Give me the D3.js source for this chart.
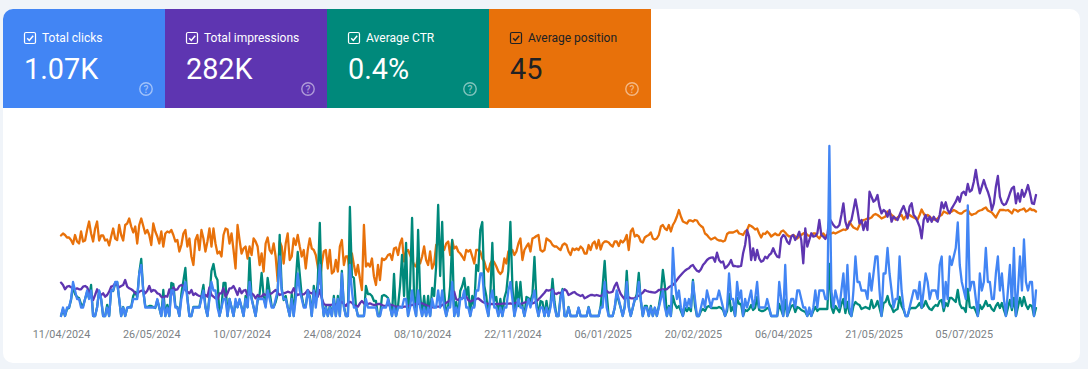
<!DOCTYPE html>
<html>
<style>
body { margin: 0; background: #f0f4f9; }
svg { display: block; }
text { font-family: Roboto, sans-serif; }
.axis text { font-size: 10.8px; fill: #7b7f85; }
.axis path, .axis line { display: none; }
.lines path { fill: none; stroke-width: 2.3; stroke-linejoin: round; stroke-linecap: round; }
</style>
<svg width="1088" height="369"></svg>
<script src="https://d3js.org/d3.v7.min.js"></script>
<script>

var metricNames = ["Total clicks", "Total impressions", "Average CTR", "Average position"];
var metricValues = ["1.07K", "282K", "0.4%", "45"];
var metricColors = ["#4285f4", "#5e35b1", "#00897b", "#e8710a"];
var metricInk = ["#ffffff", "#ffffff", "#ffffff", "#202124"];

var startDate = "11/04/2024";
var tickLabels = ["11/04/2024", "26/05/2024", "10/07/2024", "24/08/2024", "08/10/2024", "22/11/2024",
    "06/01/2025", "20/02/2025", "06/04/2025", "21/05/2025", "05/07/2025"];

// one value per day, 20 days a row
var clicks = [
    0,1,0,1,1,2,4,3,2,2,1,1,2,3,2,3,0,0,1,3,
    2,0,0,1,0,3,3,4,4,2,0,1,0,1,1,1,2,2,2,5,
    6,3,1,1,1,1,1,1,2,1,0,2,0,1,0,3,3,1,1,0,
    2,3,4,2,0,0,1,1,1,1,2,3,1,0,2,4,3,3,1,0,
    1,2,2,0,2,1,0,2,1,2,1,0,2,1,4,2,1,0,2,2,
    2,2,1,3,2,1,1,2,3,7,3,2,2,1,0,2,0,2,5,3,
    2,1,1,3,2,0,3,1,3,6,2,0,1,0,1,0,2,0,2,0,
    5,1,0,0,6,3,1,1,0,0,0,0,2,1,1,1,1,1,0,0,
    1,1,1,2,1,0,1,0,1,1,1,2,2,0,1,3,1,0,3,1,
    0,1,0,1,0,2,1,1,3,1,3,1,0,1,1,4,0,1,0,2,
    2,3,1,1,0,1,1,3,3,5,5,2,1,0,2,3,1,1,0,1,
    0,1,1,3,4,2,0,1,2,1,1,0,1,2,1,2,3,1,0,1,
    1,0,1,0,1,3,1,0,0,2,3,0,0,1,0,0,0,0,1,0,
    0,0,0,1,0,0,0,0,0,1,1,4,1,0,0,0,1,3,2,1,
    0,1,4,1,0,1,2,2,4,2,0,1,1,0,1,0,1,0,1,2,
    3,1,0,1,0,8,4,2,3,1,0,2,1,2,1,4,2,0,0,1,
    2,1,3,2,1,2,2,2,3,2,1,0,1,5,2,2,0,4,2,3,
    0,2,1,2,3,1,2,4,1,1,1,1,2,1,0,0,0,0,4,2,
    0,6,0,1,2,2,1,3,3,2,1,1,0,1,0,1,3,1,3,3,
    3,2,2,20,3,1,3,2,1,3,5,1,6,1,0,3,7,4,4,3,
    3,3,2,5,3,5,7,7,3,0,5,5,8,5,3,1,2,2,7,3,
    1,0,0,1,2,3,3,2,4,1,3,5,4,2,3,3,3,2,6,7,
    1,4,2,7,6,7,8,11,6,4,3,2,13,3,4,4,2,0,5,3,
    4,8,4,4,2,2,5,7,3,5,2,0,3,6,1,8,0,3,7,3,
    9,4,3,4,4,0,3
];

var impressions = [
    334,310,267,293,300,287,277,267,277,267,267,293,300,287,243,210,160,210,267,227,
    210,227,193,210,243,293,300,327,310,287,300,310,360,293,277,267,253,227,220,243,
    253,253,227,253,300,243,260,253,227,220,193,177,200,193,267,210,287,260,267,300,
    310,300,260,243,227,260,210,227,210,200,193,187,210,193,287,210,193,177,167,227,
    227,277,193,227,277,277,300,260,210,277,227,253,260,200,220,227,210,177,210,193,
    193,220,210,210,220,227,243,260,233,210,220,227,233,243,237,233,277,227,210,220,
    217,217,233,260,233,227,243,210,193,260,177,120,110,110,110,113,117,117,110,127,
    143,120,100,127,143,133,110,100,93,127,150,127,110,120,127,117,110,113,120,120,
    110,100,103,110,110,110,100,93,93,93,87,93,93,100,107,110,117,120,120,127,
    127,117,110,100,93,87,87,93,93,93,110,120,133,143,160,210,243,167,160,177,
    177,187,193,160,143,153,160,170,177,160,143,133,127,120,120,120,117,120,120,120,
    123,127,120,123,127,120,127,133,127,120,127,133,140,143,133,127,133,150,167,187,
    210,233,260,253,260,267,227,220,233,227,243,267,253,210,220,233,240,220,210,200,
    210,177,187,200,210,210,203,210,203,200,210,243,253,233,237,243,300,333,267,220,
    193,167,193,187,177,177,177,193,203,217,233,260,250,243,240,237,233,243,260,263,
    267,267,267,287,300,310,333,360,387,410,433,453,467,477,500,510,477,453,443,467,
    510,533,560,577,583,587,543,633,560,535,545,478,495,520,560,500,500,495,495,500,
    627,710,860,793,560,677,560,660,577,543,553,593,577,610,627,677,627,593,587,777,
    810,793,743,720,793,810,760,793,843,760,527,877,693,760,827,793,800,827,960,810,
    793,770,810,977,943,910,887,887,910,1010,1127,943,877,927,960,1060,1167,1060,927,960,
    860,943,860,1243,1193,1143,1160,1210,1093,1027,1060,1043,993,1060,943,993,977,960,1010,1060,
    1100,1043,977,1093,1127,1010,987,943,893,777,960,1010,943,993,943,993,960,943,1010,1137,
    1077,1137,1060,1027,1077,1110,1143,1193,1143,1227,1243,1210,1320,1243,1260,1343,1460,1327,1227,1293,
    1360,1293,1243,1177,1060,1127,1293,1400,1193,1133,1110,1120,1167,1227,1277,1293,1127,1227,1143,1260,
    1193,1243,1310,1227,1127,1120,1210
];

// in hundredths of a percent
var ctr = [
    0,7,0,7,8,16,30,22,19,18,12,10,17,24,18,31,0,0,9,25,
    17,0,0,11,0,26,25,32,34,17,0,9,0,8,9,9,20,24,19,43,
    57,25,10,9,10,10,9,8,16,8,0,26,0,11,0,33,32,10,9,0,
    22,35,48,18,0,0,9,9,9,9,20,31,9,0,20,45,52,40,36,0,
    9,33,33,0,17,9,0,14,9,16,9,0,20,9,58,18,9,0,15,22,
    43,20,10,38,24,10,9,14,22,81,28,16,20,9,0,22,0,34,64,42,
    20,10,10,24,20,0,30,14,35,93,20,0,10,0,10,0,20,0,20,0,
    45,10,0,0,109,40,38,10,0,0,0,0,30,22,22,20,15,15,0,0,
    20,21,20,18,10,0,42,0,10,30,61,20,73,0,30,98,20,0,86,22,
    0,20,0,20,0,28,20,50,111,40,94,25,0,10,30,76,0,14,0,25,
    30,38,20,29,0,20,10,51,45,86,94,30,20,0,20,73,15,19,0,17,
    0,18,25,45,94,30,0,34,10,34,10,0,19,18,15,22,59,15,0,15,
    14,0,15,0,12,37,14,0,0,20,27,0,0,9,0,0,0,0,8,0,
    0,0,0,9,0,0,0,0,0,10,30,55,22,0,0,0,8,22,15,8,
    0,10,45,10,0,8,16,22,43,15,0,10,10,0,10,0,8,0,10,22,
    46,30,0,10,0,20,12,8,10,5,0,8,5,8,5,36,10,0,0,5,
    7,5,9,10,8,8,8,8,9,8,6,0,5,22,5,9,0,18,12,12,
    0,6,5,7,11,6,8,19,6,5,5,6,8,7,0,0,0,0,12,6,
    0,16,0,5,10,11,4,9,8,6,5,4,0,5,0,5,9,5,7,7,
    7,7,7,52,9,3,10,7,4,12,17,3,14,3,0,10,14,12,11,7,
    8,9,8,7,16,8,10,15,8,0,13,14,20,12,9,4,6,7,19,10,
    6,0,0,7,8,8,8,10,13,8,10,15,10,7,6,9,11,10,15,16,
    5,13,10,18,18,16,14,26,12,8,8,4,27,9,8,9,5,0,11,7,
    10,15,10,11,7,5,10,13,8,13,6,0,8,16,6,18,0,9,18,10,
    19,11,7,11,10,0,8
];

var position = [
    45.1,44.7,45,45.5,45.5,46,46.8,45,46.3,46.7,44.3,46.3,46.1,44,42.3,44.7,46.3,43.7,42.3,46.1,
    45.1,45.1,46.1,45.9,47.1,45.3,43.7,45.7,46,43,45,46.1,43,42.7,41.7,43.3,44.5,43.3,46.7,43,
    41.7,43.2,44.7,44,45,47,42.7,44.3,45.3,46.7,44.3,47.3,44.7,44.3,44.5,44,45,46.3,46,48.3,
    47,44.7,44,47.3,45.7,49.3,51,46,45,48,44,45.7,48.3,46.3,43.7,47.3,43.7,46.7,48.7,48.3,
    49.3,45,43.7,43.9,46.7,44.7,48,51.7,43,46,48.7,47.7,47.3,49.7,47.3,49,45.7,46.3,47.3,51,
    48.7,52.3,46.7,45.5,48,48.7,46.7,49.3,54.3,46.3,47.3,50.7,46.7,44.7,50,49.3,45.7,47,45,47.3,
    49.3,48,51.7,48,45.7,47.7,48,49,51.3,54.7,50.7,48.3,48,51.7,48,52.7,52.3,50,52.3,47.3,
    46,51,49.3,49.3,53.3,48.7,51,53,51,53.7,56,43,51.3,50.7,51.3,49.7,53.3,55,51,54,
    49.7,50,49.7,49,48.8,50,47.7,47.5,49,46.7,45.7,50.3,48.3,48,49,50,51,51.3,49.3,50.7,
    49.3,47.3,50,51,48.3,51.7,50.7,47,46.7,47,46.7,48,46.7,46.3,49,46.1,47.7,47.3,48.3,48.7,
    49.3,50,48,48.3,48,49.3,50.7,48,48,48.3,49.7,50.3,51.7,52.3,50.7,50,50.5,51.3,52.3,52.8,
    52.3,49.7,50.7,48.3,48.3,48,49,48.3,46.7,45.7,50,48,47.3,46.7,48.3,45.7,45.5,45.2,45,48,
    48.3,48,45.7,46,46.3,47,47.3,47.3,47.7,48,47,46.7,47,48.3,49,47.7,48,47.7,48,47.3,
    47.7,48.7,48.7,47,48,46.7,46.3,47.7,46,47.9,46.7,46.3,46.3,46.5,47,47.3,46.3,46.3,47.2,46.1,
    46.5,46,45,48,44.3,43.7,45.3,45,45.3,46.3,46.5,45.5,45.2,45,44.5,45.7,45.9,45.7,45,43.3,
    43,43.7,44,43,44.3,43,42.3,41.3,40,41.3,42.3,42.5,42.7,42.1,42.1,42.3,42,42.1,42.8,43.2,
    43.5,44.7,45,45.5,45.9,45.7,45.5,45.9,46.1,46.1,46.3,46.1,44.8,44.5,44.5,44.5,44.3,44.1,44.7,44.8,
    45,44.3,44,43,43.2,43.5,43.9,43.7,44.7,45.5,44.7,44.8,44.3,44.7,45.3,45,44.7,45,45,44.3,
    44.1,44.5,45,45.3,45.2,45,45.3,45.7,45.3,45,44.7,44.5,45,45.2,45,44.7,44.7,45.3,45.7,45,
    44.7,45.3,45,44.8,44.7,44.5,44.7,44.5,44.3,44.1,43.9,44,43.7,42.3,43,43.5,43.7,43.9,43,42.3,
    42,41.9,41.7,41.7,41.5,41,40.8,41,41.3,41.7,41.5,41.3,40.3,40.5,41,41.3,41.9,41.5,41.2,41,
    41.9,41.3,41,41,41.3,41.5,41.7,41.9,41,39.9,40.7,41.3,41,41.3,41.7,41.9,41.9,41.7,41.2,41,
    40.3,40.5,40.7,40.5,40.3,40,40.2,40.5,40.7,40.7,40.3,40.1,40,40.7,41,40.8,40.7,40.3,40.1,40,
    39.7,39.5,40.1,40.3,40.5,41,41.5,40.7,40,40,40,40.1,40,40.3,40.7,39.9,40,40.3,40,39.9,
    39.7,40.3,40.1,39.7,40,40,40.3
];

var svg = d3.select("svg");
var parseDate = d3.timeParse("%d/%m/%Y");
var formatDate = d3.timeFormat("%d/%m/%Y");
var day0 = parseDate(startDate);

// white panel
svg.append("rect")
    .attr("x", 3).attr("y", 9)
    .attr("width", 1077).attr("height", 354)
    .attr("rx", 10)
    .attr("fill", "#fff");

// metric cards
var cardX = d3.scaleBand().domain(metricNames).range([3, 651]);

var card = svg.selectAll("g.card")
    .data(metricNames)
    .enter().append("g")
    .attr("class", "card")
    .attr("transform", d => "translate(" + cardX(d) + ",9)");

card.append("path")
    .attr("d", (d, i) => {
        var w = cardX.bandwidth(), h = 99, r = i === 0 ? 10 : 0;
        return "M0," + r + "A" + r + "," + r + " 0 0 1 " + r + ",0H" + w + "V" + h + "H0Z";
    })
    .attr("fill", (d, i) => metricColors[i]);

card.append("rect")
    .attr("x", 21.5).attr("y", 23.5)
    .attr("width", 11).attr("height", 11)
    .attr("rx", 1.5)
    .attr("fill", "none")
    .attr("stroke", (d, i) => metricInk[i])
    .attr("stroke-width", 1.2);

card.append("path")
    .attr("d", "M24.2,29.2L26.3,31.4L30.2,26.8")
    .attr("fill", "none")
    .attr("stroke", (d, i) => metricInk[i])
    .attr("stroke-width", 1.5);

card.append("text")
    .attr("x", 39).attr("y", 33)
    .attr("font-size", 12)
    .attr("font-weight", 400)
    .attr("fill", (d, i) => metricInk[i])
    .text(d => d);

card.append("text")
    .attr("x", 21).attr("y", 70)
    .attr("font-size", 28.8)
    .attr("fill", (d, i) => metricInk[i])
    .text((d, i) => metricValues[i]);

card.append("circle")
    .attr("cx", 143).attr("cy", 80)
    .attr("r", 6.2)
    .attr("fill", "none")
    .attr("stroke", "#fff")
    .attr("stroke-opacity", 0.5)
    .attr("stroke-width", 1.4);

card.append("text")
    .attr("x", 143).attr("y", 83.6)
    .attr("text-anchor", "middle")
    .attr("font-size", 10)
    .attr("font-weight", 500)
    .attr("fill", "#fff")
    .attr("fill-opacity", 0.5)
    .text("?");

// chart
var dates = clicks.map((d, i) => d3.timeDay.offset(day0, i));

var x = d3.scaleTime()
    .domain(d3.extent(dates))
    .range([61, 1036]);

var yClicks = d3.scaleLinear().domain([0, 20]).range([316, 146]);
var yImpressions = d3.scaleLinear().domain([0, 1700]).range([316, 146]);
var yCtr = d3.scaleLinear().domain([0, 170]).range([316, 146]);
var yPosition = d3.scaleLinear().domain([61.2, 27.2]).range([316, 146]);

function addLine(values, y, color) {
    var line = d3.line()
        .x((d, i) => x(dates[i]))
        .y(d => y(d));
    svg.select("g.lines").append("path")
        .datum(values)
        .attr("d", line)
        .attr("stroke", color);
}

svg.append("g").attr("class", "lines");
addLine(position, yPosition, metricColors[3]);
addLine(ctr, yCtr, metricColors[2]);
addLine(impressions, yImpressions, metricColors[1]);
addLine(clicks, yClicks, metricColors[0]);

svg.append("g")
    .attr("class", "axis")
    .attr("transform", "translate(0,326)")
    .call(d3.axisBottom(x)
        .tickValues(tickLabels.map(parseDate))
        .tickFormat(formatDate)
        .tickSize(0)
        .tickPadding(4));

</script>
</html>
